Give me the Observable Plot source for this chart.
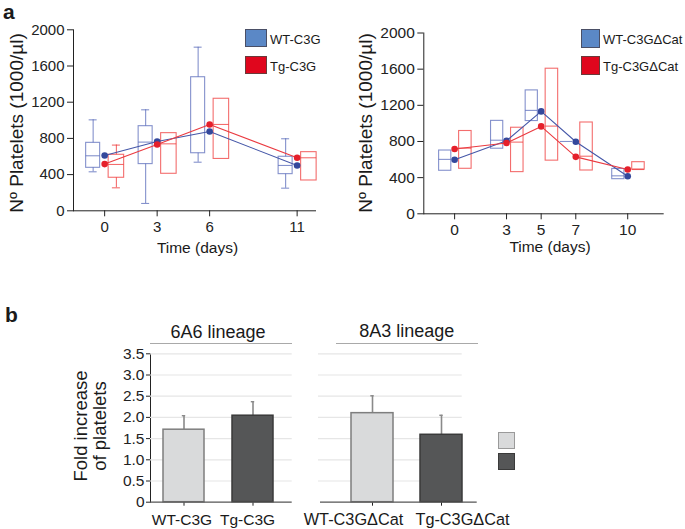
<!DOCTYPE html>
<html><head><meta charset="utf-8">
<script src="https://cdn.jsdelivr.net/npm/d3@7"></script>
<script src="https://cdn.jsdelivr.net/npm/@observablehq/plot@0.6"></script>
<style>
body{margin:0;background:#fff;}
#root{position:relative;width:685px;height:529px;overflow:hidden;font-family:"Liberation Sans",Arial,Helvetica,sans-serif;color:#1a1a1a;background:#fff;}
.plot{position:absolute;}
.plot svg{display:block;}
.t{position:absolute;white-space:nowrap;line-height:1;transform:translate(-50%,-50%);}
.tl{position:absolute;white-space:nowrap;line-height:1;transform:translate(0,-50%);}
.rot{position:absolute;white-space:nowrap;line-height:1;transform:translate(-50%,-50%) rotate(-90deg);}
.sw{position:absolute;box-sizing:border-box;}
.hl{position:absolute;height:0;border-top:1.5px solid #a9a9a9;}
</style></head>
<body><div id="root"></div>
<script>
// ---------- Panel a (left): WT-C3G vs Tg-C3G ----------
const a1Days = [0, 3, 6, 11];
const a1WtMean = [611, 766, 876, 501];
const a1WtQ1 = [475, 516, 636, 405];
const a1WtMed = [608, 759, null, 501];
const a1WtQ3 = [751, 935, 1476, 597];
const a1WtLo = [431, 81, 537, 250];
const a1WtHi = [1005, 1116, 1808, 796];
const a1TgMean = [516, 733, 954, 586];
const a1TgQ1 = [365, 409, 573, 335];
const a1TgMed = [512, 740, 954, 586];
const a1TgQ3 = [619, 858, 1238, 648];
const a1TgLo = [254, null, null, null];
const a1TgHi = [726, null, null, null];

// ---------- Panel a (right): WT-C3GΔCat vs Tg-C3GΔCat ----------
const a2Days = [0, 3, 5, 7, 10];
const a2WtMean = [598, 808, 1133, 797, 416];
const a2WtQ1 = [476, 720, 1026, 800, 383];
const a2WtMed = [602, 814, 1144, 800, 420];
const a2WtQ3 = [700, 1028, 1365, 800, 496];
const a2TgMean = [716, 783, 967, 630, 490];
const a2TgQ1 = [498, 461, 588, 479, 490];
const a2TgMed = [726, 793, 970, 637, 490];
const a2TgQ3 = [916, 952, 1605, 1010, 571];

const aTicks = [0, 400, 800, 1200, 1600, 2000];
const aSeries = ["WT-C3G", "Tg-C3G"];
const aSeries2 = ["WT-C3GΔCat", "Tg-C3GΔCat"];

// ---------- Panel b ----------
const b1Groups = ["WT-C3G", "Tg-C3G"];
const b1Values = [1.71, 2.04];
const b1Errors = [0.33, 0.33];
const b2Groups = ["WT-C3GΔCat", "Tg-C3GΔCat"];
const b2Values = [2.10, 1.59];
const b2Errors = [0.41, 0.46];
const bTicks = [0, 0.5, 1, 1.5, 2, 2.5, 3, 3.5];

// ---------- styles ----------
const C = {
  wtBox: "#5566b8", tgBox: "#ee3434",
  wtLine: "#4557a8", tgLine: "#ea3a40",
  wtDot: "#34489c", tgDot: "#e5202b",
  wtSwatch: "#5b88c6", tgSwatch: "#e0061d",
  light: "#d9dadb", dark: "#555657"
};
const FONT = "Liberation Sans, Arial, Helvetica, sans-serif";
const root = document.getElementById("root");

function place(node, left, top) {
  const d = document.createElement("div");
  d.className = "plot";
  d.style.left = left + "px"; d.style.top = top + "px";
  d.appendChild(node); root.appendChild(d);
}
function text(str, cls, x, y, size, extra) {
  const d = document.createElement("div");
  d.className = cls; d.textContent = str;
  d.style.left = x + "px"; d.style.top = y + "px"; d.style.fontSize = size + "px";
  if (extra) Object.assign(d.style, extra);
  root.appendChild(d);
}
function box(x, y, w, h, fill, border) {
  const d = document.createElement("div");
  d.className = "sw";
  Object.assign(d.style, {left: x + "px", top: y + "px", width: w + "px", height: h + "px", background: fill, border: "1px solid " + border});
  root.appendChild(d);
}

function table(days, mean, q1, med, q3, lo, hi) {
  return days.map((d, i) => ({day: d, mean: mean[i], q1: q1[i], med: med[i], q3: q3[i],
    lo: lo ? lo[i] : null, hi: hi ? hi[i] : null}));
}

function boxMarks(R, o, color) {
  const c = (o[0] + o[1]) / 2;
  const wh = R.filter(r => r.lo != null);
  const st = {stroke: color, strokeOpacity: 0.72, strokeWidth: 1.1};
  return [
    Plot.ruleX(wh, {x: "day", y1: "lo", y2: "hi", dx: c, ...st}),
    Plot.ruleY(wh, {x1: "day", x2: "day", y: "hi", insetLeft: c - 4, insetRight: -(c + 4), ...st}),
    Plot.ruleY(wh, {x1: "day", x2: "day", y: "lo", insetLeft: c - 4, insetRight: -(c + 4), ...st}),
    Plot.rect(R, {x1: "day", x2: "day", y1: "q1", y2: "q3", insetLeft: o[0], insetRight: -o[1], fill: "white", ...st}),
    Plot.ruleY(R.filter(r => r.med != null), {x1: "day", x2: "day", y: "med", insetLeft: o[0], insetRight: -o[1], ...st})
  ];
}

function boxPanel(cfg) {
  return Plot.plot({
    width: cfg.width, height: cfg.height,
    marginLeft: cfg.ml, marginRight: cfg.mr, marginTop: cfg.mt, marginBottom: cfg.mb,
    style: {fontFamily: FONT, fontSize: cfg.font + "px", color: "#222", background: "transparent", overflow: "visible"},
    x: {domain: [-1.78, 12.05], ticks: cfg.days, tickFormat: d => String(d), tickSize: 6, tickPadding: cfg.xpad, label: null, line: true},
    y: {domain: [0, 2000], ticks: aTicks, tickFormat: d => String(d), tickSize: 6, tickPadding: 3, label: null, line: true},
    marks: [
      ...boxMarks(cfg.wt, cfg.wtOff, C.wtBox),
      ...boxMarks(cfg.tg, cfg.tgOff, C.tgBox),
      Plot.line(cfg.wt, {x: "day", y: "mean", stroke: C.wtLine, strokeWidth: 1.1}),
      Plot.line(cfg.tg, {x: "day", y: "mean", stroke: C.tgLine, strokeWidth: 1.1}),
      Plot.dot(cfg.wt, {x: "day", y: "mean", fill: C.wtDot, r: 3.3}),
      Plot.dot(cfg.tg, {x: "day", y: "mean", fill: C.tgDot, r: 3.3})
    ]
  });
}

const a1Wt = table(a1Days, a1WtMean, a1WtQ1, a1WtMed, a1WtQ3, a1WtLo, a1WtHi);
const a1Tg = table(a1Days, a1TgMean, a1TgQ1, a1TgMed, a1TgQ3, a1TgLo, a1TgHi);
const a2Wt = table(a2Days, a2WtMean, a2WtQ1, a2WtMed, a2WtQ3);
const a2Tg = table(a2Days, a2TgMean, a2TgQ1, a2TgMed, a2TgQ3);

place(boxPanel({width: 340, height: 260, ml: 73, mr: 25, mt: 29.3, mb: 49.7, font: 15, xpad: 5,
  days: a1Days, wt: a1Wt, tg: a1Tg, wtOff: [-18.5, -4.5], tgOff: [4, 19.5]}), 0, 0);
place(boxPanel({width: 345, height: 260, ml: 83.3, mr: 22.3, mt: 32.5, mb: 46.7, font: 15.5, xpad: 4,
  days: a2Days, wt: a2Wt, tg: a2Tg, wtOff: [-15.5, -3.3], tgOff: [4.5, 17]}), 340, 0);

// panel a texts
text("a", "tl", 3, 11, 21, {fontWeight: "bold"});
text("Nº Platelets (1000/µl)", "rot", 16, 123, 19);
text("Nº Platelets (1000/µl)", "rot", 365, 123, 19);
text("Time (days)", "t", 197.5, 248, 15.5);
text("Time (days)", "t", 550, 247, 15.5);
box(245, 29.3, 22, 17.5, C.wtSwatch, "#4a4f66");
box(245, 56, 22, 18, C.tgSwatch, "#6a3a3a");
text(aSeries[0], "tl", 270, 38.5, 13);
text(aSeries[1], "tl", 270, 65.5, 13);
box(580.7, 29.3, 19, 19, C.wtSwatch, "#4a4f66");
box(580.7, 56, 19, 19, C.tgSwatch, "#6a3a3a");
text(aSeries2[0], "tl", 603, 38.5, 13);
text(aSeries2[1], "tl", 603, 65.5, 13);

// ---------- panel b ----------
function barPanel(cfg) {
  const rows = cfg.groups.map((g, i) => ({group: g, value: cfg.values[i], err: cfg.errors[i], fill: cfg.fills[i], stroke: cfg.strokes[i]}));
  return Plot.plot({
    width: cfg.width, height: 239,
    marginLeft: cfg.ml, marginRight: cfg.mr, marginTop: 63.3, marginBottom: 27.3,
    style: {fontFamily: FONT, fontSize: "15.5px", color: "#222", background: "transparent", overflow: "visible"},
    x: {domain: cfg.groups, range: cfg.range, paddingInner: cfg.pi, paddingOuter: cfg.po, tickSize: 4, tickFormat: () => "", label: null},
    y: cfg.yAxis
      ? {domain: [0, 3.5], ticks: bTicks, tickFormat: d => d === 0 ? "0" : d.toFixed(1), tickSize: 4, tickPadding: 2, label: null, line: true}
      : {domain: [0, 3.5], axis: null},
    marks: [
      Plot.ruleY(bTicks.filter(t => t > 0), {stroke: "#e6e6e6", strokeWidth: 1.2, insetRight: cfg.gridInsetRight || 0}),
      Plot.ruleX(rows, {x: "group", y1: "value", y2: d => d.value + d.err, stroke: "#8a8a8a", strokeWidth: 1.6}),
      Plot.tickY(rows, {x: "group", y: d => d.value + d.err, stroke: "#8a8a8a", strokeWidth: 1.4, insetLeft: cfg.capInset, insetRight: cfg.capInset}),
      Plot.barY(rows, {x: "group", y: "value", fill: "fill", stroke: "stroke", strokeWidth: 1.5}),
      Plot.ruleY([0], {stroke: "#555", strokeWidth: 1.2, insetLeft: cfg.baseInsetLeft || 0}),
      Plot.text([rows[0]], {x: "group", y: 0, text: "group", dy: 17.5, dx: cfg.labelDx[0], fontSize: cfg.labelSize, fill: "#1a1a1a"}),
      Plot.text([rows[1]], {x: "group", y: 0, text: "group", dy: 17.5, dx: cfg.labelDx[1], fontSize: cfg.labelSize, fill: "#1a1a1a"})
    ]
  });
}

place(barPanel({width: 300, ml: 150, mr: 8.3, range: [150, 285.8], pi: 0.4, po: 0.184, capInset: 18.8,
  labelDx: [-2, -5.5], labelSize: 15.5,
  groups: b1Groups, values: b1Values, errors: b1Errors, fills: [C.light, C.dark], strokes: ["#7e7e7e", "#3a3a3a"], yAxis: true}), 0, 290);
place(barPanel({width: 200, ml: 18, mr: 23.3, range: [18, 196], pi: 0.391, po: 0.467, capInset: 19.3, gridInsetRight: 15, baseInsetLeft: 2,
  labelDx: [-19, 21], labelSize: 16.3,
  groups: b2Groups, values: b2Values, errors: b2Errors, fills: [C.light, C.dark], strokes: ["#7e7e7e", "#3a3a3a"], yAxis: false}), 300, 290);

text("b", "tl", 5, 314, 21, {fontWeight: "bold"});
text("6A6 lineage", "t", 218, 331.5, 18);
text("8A3 lineage", "t", 406.7, 330.7, 18);
const l1 = document.createElement("div"); l1.className = "hl";
Object.assign(l1.style, {left: "150px", width: "141.7px", top: "342.6px"}); root.appendChild(l1);
const l2 = document.createElement("div"); l2.className = "hl";
Object.assign(l2.style, {left: "335.7px", width: "142px", top: "342.6px"}); root.appendChild(l2);
text("Fold increase", "rot", 80.5, 426, 18.5);
text("of platelets", "rot", 100, 426, 18.5);
box(498.3, 431.7, 17, 17, C.light, "#9a9a9a");
box(498.3, 453.3, 17, 17, C.dark, "#3a3a3a");
</script>
</body></html>
